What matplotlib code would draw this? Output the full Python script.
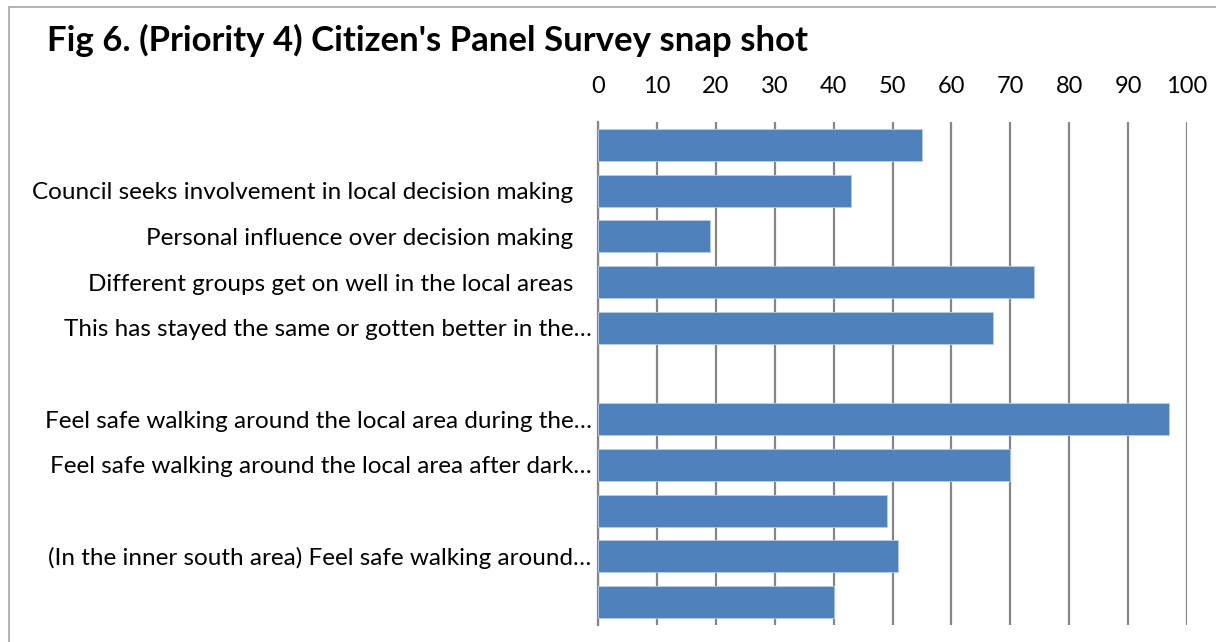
import matplotlib
matplotlib.use("Agg")
import matplotlib.pyplot as plt
from matplotlib.patches import Rectangle

plt.rcParams["font.family"] = ["Lato", "DejaVu Sans"]

# Categories, top to bottom as drawn
labels = [
    "",
    "Council seeks involvement in local decision making",
    "Personal influence over decision making",
    "Different groups get on well in the local areas",
    "This has stayed the same or gotten better in the\u2026",
    "",
    "Feel safe walking around the local area during the\u2026",
    "Feel safe walking around the local area after dark\u2026",
    "",
    "(In the inner south area) Feel safe walking around\u2026",
    "",
]
values = [55, 43, 19, 74, 67, None, 97, 70, 49, 51, 40]
x_ticks = [0, 10, 20, 30, 40, 50, 60, 70, 80, 90, 100]

BAR_COLOR = "#4f81bd"
GRID_COLOR = "#868686"

fig = plt.figure(figsize=(12.16, 6.42), dpi=100)
W, H = 1216, 642
ax = fig.add_axes([598 / W, 1 - 625 / H, (1187 - 598) / W, (625 - 122) / H])

# outer chart border (light grey, runs off the right/bottom edge)
fig.patches.append(Rectangle((9 / W, -0.1), 1.2, 1 - 7 / H + 0.1,
                             transform=fig.transFigure, fill=False,
                             edgecolor="#a6a6a6", linewidth=1.2))

ypos = list(range(len(labels)))
for y, v in zip(ypos, values):
    if v is None:
        continue
    ax.barh(y, v, height=0.7, color=BAR_COLOR, edgecolor="#b9cde5",
            linewidth=0.6, zorder=3)

ax.set_xlim(0, 100)
ax.set_ylim(len(labels) - 0.5, -0.5)
ax.set_xticks(x_ticks)
ax.xaxis.tick_top()
ax.tick_params(axis="x", length=0, pad=18, labelsize=17)
ax.set_yticks(ypos)
ax.set_yticklabels(labels, fontsize=17.5)
ax.tick_params(axis="y", length=0)
for tick, lab in zip(ax.yaxis.get_major_ticks(), labels):
    tick.set_pad(4.5 if lab.endswith("\u2026") else 18)

ax.grid(axis="x", color=GRID_COLOR, linewidth=1.6, zorder=0)
ax.grid(axis="y", visible=False)
for side in ["top", "right", "bottom"]:
    ax.spines[side].set_visible(False)
ax.spines["left"].set_color(GRID_COLOR)
ax.spines["left"].set_linewidth(1.6)

fig.text(47 / W, 1 - 40 / H, "Fig 6. (Priority 4) Citizen's Panel Survey snap shot",
         fontsize=25, fontweight="bold", va="center", ha="left")

fig.savefig("out.png", dpi=100)
